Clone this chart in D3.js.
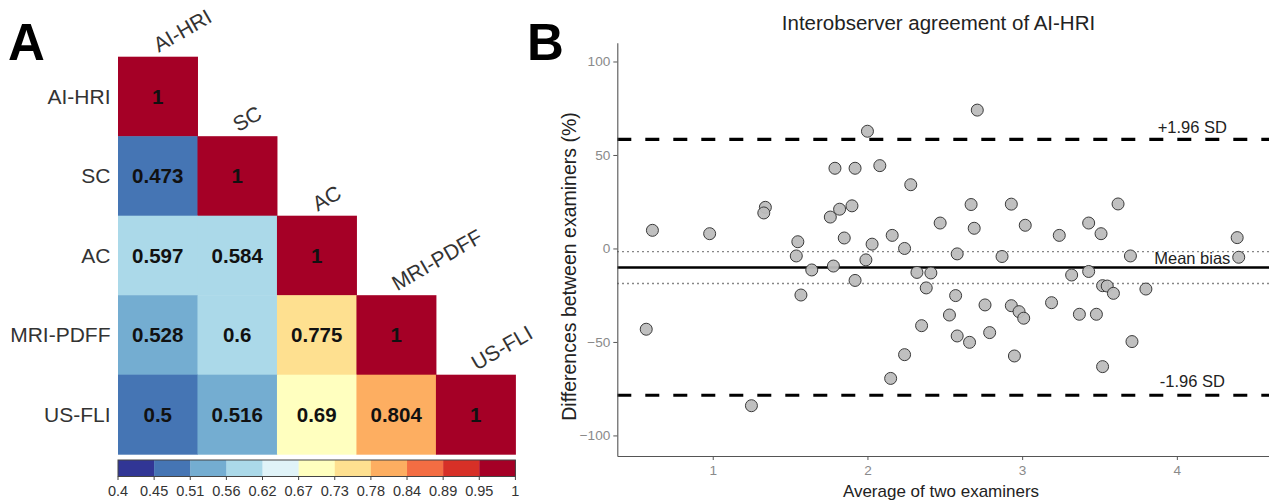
<!DOCTYPE html>
<html>
<head>
<meta charset="utf-8">
<script src="https://cdn.jsdelivr.net/npm/d3@7"></script>
<style>
  body { margin: 0; background: #fff; }
  text { font-family: "Liberation Sans", Arial, sans-serif; }
</style>
</head>
<body>
<div id="chart"></div>
<script>
// Panel A data
const vars = ["AI-HRI", "SC", "AC", "MRI-PDFF", "US-FLI"];
const corrRows = [
    [1],
    [0.473, 1],
    [0.597, 0.584, 1],
    [0.528, 0.6, 0.775, 1],
    [0.5, 0.516, 0.69, 0.804, 1]
];
const barColors = ["#313695", "#4575b4", "#74add1", "#abd9e9", "#e0f3f8", "#ffffbf",
    "#fee090", "#fdae61", "#f46d43", "#d73027", "#a50026"];
const barTickLabels = ["0.4", "0.45", "0.51", "0.56", "0.62", "0.67", "0.73", "0.78", "0.84", "0.89", "0.95", "1"];

// Panel B data
const avgValues = [0.61, 0.98, 1.34, 1.33, 1.55, 1.54, 1.79, 1.92, 2.08, 2.00,
    2.28, 2.47, 1.76, 1.82, 1.90, 1.85, 2.03, 2.16, 2.24, 1.99,
    1.78, 1.64, 1.92, 1.57, 2.32, 2.41, 2.38, 2.57, 2.58, 2.67,
    2.69, 2.87, 2.93, 3.02, 3.24, 3.43, 3.51, 3.62, 3.70, 3.32,
    3.43, 3.52, 3.55, 3.59, 3.80, 4.39, 4.40, 2.71, 0.57, 2.53,
    2.35, 2.24, 2.15, 1.25, 2.76, 2.93, 2.98, 3.01, 3.19, 3.37,
    3.48, 2.58, 2.66, 2.79, 2.95, 3.71, 3.52];
const diffValues = [9.7, 7.9, 22.0, 19.0, 3.6, -4.0, 42.9, 42.9, 44.3, 62.7,
    34.1, 13.6, 16.8, 21.0, 22.8, 5.6, 2.3, 7.0, 0.0, -6.1,
    -9.4, -11.5, -17.1, -24.9, -12.8, -13.1, -21.1, -25.2, -2.9, 23.5,
    10.8, -4.3, 23.7, 12.4, 7.0, 13.6, 7.9, 23.8, -4.0, -14.2,
    -12.3, -19.9, -20.1, -24.0, -21.7, 5.8, -4.7, 74.0, -43.2, -35.6,
    -41.3, -56.8, -69.5, -84.1, -30.2, -30.6, -33.8, -37.3, -29.0, -35.2,
    -35.2, -46.8, -50.2, -45.0, -57.5, -49.8, -63.2];
const meanBias = -10.2;
const biasCI = [-1.7, -18.7];
const limits = [58.4, -78.5];
const limitLabels = ["+1.96 SD", "-1.96 SD"];
const xTicks = [1, 2, 3, 4];
const yTicks = [-100, -50, 0, 50, 100];

let width = 1269,
    height = 500;

let svg = d3.select("#chart")
    .append("svg")
        .attr("width", width)
        .attr("height", height);

svg.append("rect").attr("width", width).attr("height", height).attr("fill", "#fff");

// Panel letters
svg.append("text").attr("x", 8).attr("y", 60).attr("font-size", 51).attr("font-weight", "bold").text("A");
svg.append("text").attr("x", 527).attr("y", 60).attr("font-size", 51).attr("font-weight", "bold").text("B");

// ---------- Panel A: correlation heatmap ----------
let cx = d3.scaleBand().domain(vars).range([118, 515.4]);
let cy = d3.scaleBand().domain(vars).range([56.7, 454.2]);
let color = d3.scaleQuantize().domain([0.4, 1]).range(barColors);

let cells = [];
corrRows.forEach((row, i) => row.forEach((v, j) => cells.push({ r: vars[i], c: vars[j], v: v })));

let heat = svg.append("g");
heat.selectAll("rect.cell")
    .data(cells)
    .join("rect")
        .attr("class", "cell")
        .attr("x", d => cx(d.c))
        .attr("y", d => cy(d.r))
        .attr("width", cx.bandwidth() + 0.5)
        .attr("height", cy.bandwidth() + 0.5)
        .attr("fill", d => color(d.v));

heat.selectAll("text.val")
    .data(cells)
    .join("text")
        .attr("class", "val")
        .attr("x", d => cx(d.c) + cx.bandwidth() / 2)
        .attr("y", d => cy(d.r) + cy.bandwidth() / 2 + 7.5)
        .attr("text-anchor", "middle")
        .attr("font-size", 20.5)
        .attr("font-weight", "bold")
        .attr("fill", "#111")
        .text(d => d.v);

// Row labels
heat.selectAll("text.rowlab")
    .data(vars)
    .join("text")
        .attr("class", "rowlab")
        .attr("x", 110.5)
        .attr("y", d => cy(d) + cy.bandwidth() / 2 + 7.5)
        .attr("text-anchor", "end")
        .attr("font-size", 21)
        .attr("fill", "#333")
        .text(d => d);

// Diagonal column labels
heat.selectAll("text.collab")
    .data(vars)
    .join("text")
        .attr("class", "collab")
        .attr("transform", d => `translate(${cx(d) + cx.bandwidth() / 2 + 1},${cy(d) - 4}) rotate(-30)`)
        .attr("font-size", 21)
        .attr("fill", "#333")
        .text(d => d);

// Colour bar
let bx = d3.scaleLinear().domain([0.4, 1]).range([118, 515.4]);
let edges = [0.4, ...color.thresholds(), 1];
let bar = svg.append("g");
bar.selectAll("rect")
    .data(barColors)
    .join("rect")
        .attr("x", (d, i) => bx(edges[i]))
        .attr("y", 460)
        .attr("width", (d, i) => bx(edges[i + 1]) - bx(edges[i]) + 0.3)
        .attr("height", 16.5)
        .attr("fill", d => d);
bar.append("rect")
    .attr("x", bx(0.4)).attr("y", 460)
    .attr("width", bx(1) - bx(0.4)).attr("height", 16.5)
    .attr("fill", "none").attr("stroke", "#444").attr("stroke-width", 1);
bar.selectAll("line")
    .data(edges)
    .join("line")
        .attr("x1", d => bx(d)).attr("x2", d => bx(d))
        .attr("y1", 476.5).attr("y2", 480)
        .attr("stroke", "#444");
bar.selectAll("text")
    .data(barTickLabels)
    .join("text")
        .attr("x", (d, i) => bx(edges[i]))
        .attr("y", 496)
        .attr("text-anchor", "middle")
        .attr("font-size", 14.5)
        .attr("fill", "#333")
        .text(d => d);

// ---------- Panel B: Bland-Altman plot ----------
let x = d3.scaleLinear().domain([0.383, 4.597]).range([617.3, 1269.2]);
let y = d3.scaleLinear().domain([-111, 110]).range([456, 42.8]);

let plot = svg.append("g");

// Confidence band of bias (dotted)
plot.selectAll("line.ci")
    .data(biasCI)
    .join("line")
        .attr("class", "ci")
        .attr("x1", x.range()[0]).attr("x2", x.range()[1])
        .attr("y1", d => y(d)).attr("y2", d => y(d))
        .attr("stroke", "#555")
        .attr("stroke-width", 1.4)
        .attr("stroke-dasharray", "1.4 3.6");

// Limits of agreement
plot.selectAll("line.loa")
    .data(limits)
    .join("line")
        .attr("class", "loa")
        .attr("x1", x.range()[0]).attr("x2", x.range()[1])
        .attr("y1", d => y(d)).attr("y2", d => y(d))
        .attr("stroke", "#000")
        .attr("stroke-width", 3.2)
        .attr("stroke-dasharray", "14 14");

// Mean bias
plot.append("line")
    .attr("x1", x.range()[0]).attr("x2", x.range()[1])
    .attr("y1", y(meanBias)).attr("y2", y(meanBias))
    .attr("stroke", "#000")
    .attr("stroke-width", 2.6);

// Points
plot.selectAll("circle")
    .data(avgValues.map((a, i) => [a, diffValues[i]]))
    .join("circle")
        .attr("cx", d => x(d[0]))
        .attr("cy", d => y(d[1]))
        .attr("r", 6)
        .attr("fill", "#bdbdbd")
        .attr("fill-opacity", 0.95)
        .attr("stroke", "#3a3a3a")
        .attr("stroke-width", 1);

// Line labels
let labelX = x(4.1);
plot.append("text").attr("x", labelX).attr("y", y(limits[0]) - 6.6)
    .attr("text-anchor", "middle").attr("font-size", 16.5).attr("fill", "#222").text(limitLabels[0]);
plot.append("text").attr("x", labelX).attr("y", y(meanBias) - 3.4)
    .attr("text-anchor", "middle").attr("font-size", 16.5).attr("fill", "#222").text("Mean bias");
plot.append("text").attr("x", labelX).attr("y", y(limits[1]) - 8.6)
    .attr("text-anchor", "middle").attr("font-size", 16.5).attr("fill", "#222").text(limitLabels[1]);

// Axes
let yAxis = plot.append("g")
    .attr("transform", `translate(${x.range()[0]},0)`)
    .call(d3.axisLeft(y).tickValues(yTicks).tickSize(4).tickSizeOuter(0).tickPadding(3));
let xAxis = plot.append("g")
    .attr("transform", `translate(0,${y.range()[0]})`)
    .call(d3.axisBottom(x).tickValues(xTicks).tickFormat(d3.format("d")).tickSize(4).tickSizeOuter(0).tickPadding(5));

[xAxis, yAxis].forEach(ax => {
    ax.select(".domain").attr("stroke", "#555").attr("stroke-width", 1.1);
    ax.selectAll(".tick line").attr("stroke", "#555");
    ax.selectAll(".tick text")
        .attr("font-family", "\"Liberation Sans\", Arial, sans-serif")
        .attr("font-size", 13.6)
        .attr("fill", "#8a8a8a");
});

// Titles
plot.append("text").attr("x", 938.5).attr("y", 30)
    .attr("text-anchor", "middle").attr("font-size", 20.5).attr("fill", "#222")
    .text("Interobserver agreement of AI-HRI");
plot.append("text").attr("x", 941).attr("y", 497)
    .attr("text-anchor", "middle").attr("font-size", 17).attr("fill", "#222")
    .text("Average of two examiners");
plot.append("text")
    .attr("transform", "translate(576,266.5) rotate(-90)")
    .attr("text-anchor", "middle").attr("font-size", 19.5).attr("fill", "#222")
    .text("Differences between examiners (%)");
</script>
</body>
</html>
